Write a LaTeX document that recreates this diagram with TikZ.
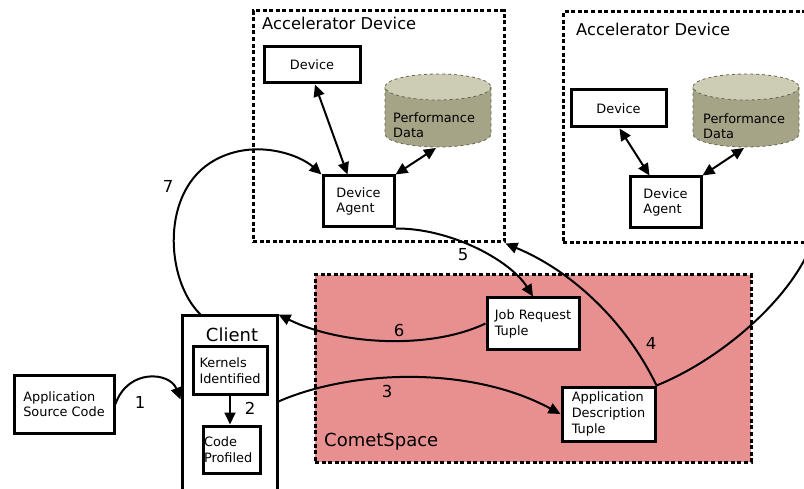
\documentclass[tikz,border=0pt]{standalone}
\usepackage{fontspec}
\setmainfont{DejaVu Sans}
\usetikzlibrary{arrows.meta}

\definecolor{cometfill}{HTML}{E89090}
\definecolor{dbbody}{HTML}{A6A486}
\definecolor{dbtop}{HTML}{CDCCB5}
\definecolor{dbedge}{HTML}{66654F}

\newcommand\boxfont{\fontsize{12.9}{15.6}\selectfont}
\newcommand\titlefont{\fontsize{16.3}{19}\selectfont}
\newcommand\bigtitlefont{\fontsize{18}{21}\selectfont}
\newcommand\stepfont{\fontsize{16.5}{19}\selectfont}

\tikzset{
  box/.style={draw, line width=3pt, fill=white, font=\boxfont, align=left, inner sep=0pt},
  zone/.style={draw, line width=3pt, dash pattern=on 4pt off 2.6pt, inner sep=0pt},
  link/.style={line width=2pt, -{Triangle[length=12pt,width=11pt]}},
  bilink/.style={line width=2pt, {Triangle[length=12pt,width=11pt]}-{Triangle[length=12pt,width=11pt]}},
  steplabel/.style={font=\stepfont, inner sep=0pt},
  pics/database/.style={code={
    \fill[dbbody] (-53,0) -- (-53,47) arc[start angle=180, end angle=0, x radius=53, y radius=13] -- (53,0) -- cycle;
    \draw[dbedge, dashed, line width=0.8pt] (-53,0) -- (-53,47) arc[start angle=180, end angle=0, x radius=53, y radius=13] -- (53,0);
    \draw[dbedge, dashed, line width=0.8pt, fill=dbtop] (0,0) ellipse[x radius=53, y radius=13];
    \coordinate (-base) at (-2,61);
  }}
}

\begin{document}
\begin{tikzpicture}[x=1pt, y=-1pt]
\useasboundingbox (0,0) rectangle (804,489);

% regions
\node[zone, fill=cometfill, minimum width=436pt, minimum height=187pt] (comet) at (533,368.5) {};
\node[zone, minimum width=251pt, minimum height=231pt] (acc1) at (378.5,126.5) {};
\node[zone, minimum width=247pt, minimum height=231pt] (acc2) at (686.5,127.5) {};
\node[anchor=west, font=\titlefont, inner sep=0pt] (acc1-title) at (262,23) {Accelerator Device};
\node[anchor=west, font=\titlefont, inner sep=0pt] (acc2-title) at (576,29) {Accelerator Device};
\node[anchor=west, font=\bigtitlefont, inner sep=0pt] (comet-title) at (324,442) {CometSpace};

% first accelerator
\node[box, minimum width=96pt, minimum height=36pt] (dev1) at (312,65) {Device};
\node[box, minimum width=71pt, minimum height=51pt] (ag1) at (358.5,201.5) {Device\\Agent};
\pic (pd1) at (438,87) {database};
\node[anchor=west, align=left, font=\boxfont, inner sep=0pt] (pd1-text) at (393,125) {Performance\\Data};

% second accelerator
\node[box, minimum width=95pt, minimum height=37pt] (dev2) at (618.5,108.5) {Device};
\node[box, minimum width=71pt, minimum height=51pt] (ag2) at (665.5,202.5) {Device\\Agent};
\pic (pd2) at (746,87) {database};
\node[anchor=west, align=left, font=\boxfont, inner sep=0pt] (pd2-text) at (703,126) {Performance\\Data};

% tuples
\node[box, minimum width=92pt, minimum height=52pt] (jrt) at (533,324) {Job Request\\Tuple};
\node[box, minimum width=93pt, minimum height=54pt] (adt) at (608.5,414) {Application\\Description\\Tuple};

% client side
\node[box, minimum width=100pt, minimum height=58pt] (src) at (64,404) {Application\\Source Code};
\node[box, minimum width=95pt, minimum height=204pt] (client) at (229.5,418) {};
\node[font=\bigtitlefont, inner sep=0pt] (client-title) at (232,335) {Client};
\node[box, minimum width=74pt, minimum height=47pt] (kern) at (230,370.5) {Kernels\\Identified};
\node[box, minimum width=57pt, minimum height=47pt, text width=55pt] (prof) at (231.5,449.5) {Code\\Profiled};

% links inside the accelerators
\draw[bilink] ([xshift=3pt]dev1.south) -- ([xshift=-11pt]ag1.north);
\draw[bilink] (pd1-base) -- (ag1.north east);
\draw[bilink] ([xshift=1pt]dev2.south) -- ([xshift=-16pt]ag2.north);
\draw[bilink] (pd2-base) -- (ag2.north east);

% numbered steps
\draw[link] (src.east) .. controls (128,368) and (170,372) .. ([yshift=-85pt]client.north west);
\draw[link] (kern.south) -- (kern.south |- prof.north);
\draw[link] ([yshift=-87pt]client.north east) .. controls (350,370) and (470,365) .. (adt.west);
\draw[link] (adt.north east) .. controls (625,320) and (570,270) .. (acc1.south east);
\draw[line width=2pt] (adt.north east) .. controls (720,360) and (790,300) .. (acc2.south east);
\draw[link] (ag1.south east) .. controls (450,228) and (510,260) .. (jrt.north);
\draw[link] ([yshift=-27pt]jrt.north west) .. controls (430,350) and (340,345) .. (client.north east);
\draw[link] ([xshift=20pt]client.north west) .. controls (165,280) and (160,190) .. (215,160)
  .. controls (255,138) and (300,155) .. (ag1.north west);

\node[steplabel] (n1) at (140,402) {1};
\node[steplabel] (n2) at (250,408) {2};
\node[steplabel] (n3) at (387,391) {3};
\node[steplabel] (n4) at (651,343) {4};
\node[steplabel] (n5) at (463,255) {5};
\node[steplabel] (n6) at (399,330) {6};
\node[steplabel] (n7) at (168,186) {7};
\end{tikzpicture}
\end{document}
